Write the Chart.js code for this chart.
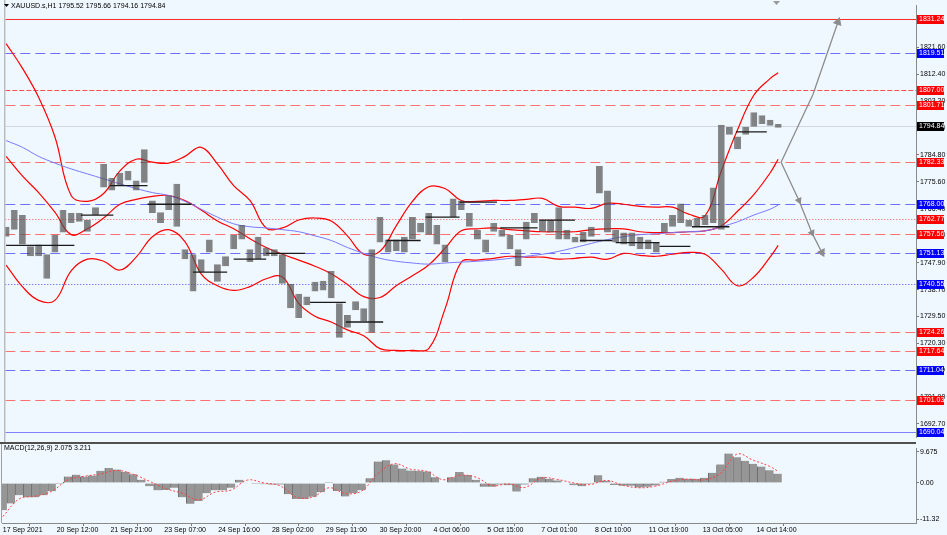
<!DOCTYPE html>
<html>
<head>
<meta charset="utf-8">
<script src="https://cdn.jsdelivr.net/npm/chart.js@4"></script>
<style>
html, body { margin: 0; padding: 0; background: #f0f8ff; overflow: hidden; }
#wrap { position: relative; width: 947px; height: 535px; background: #f0f8ff; }
#mainBox { position: absolute; left: 0; top: 0; width: 947px; height: 443px; }
#macdBox { position: absolute; left: 0; top: 443px; width: 947px; height: 92px; }
</style>
</head>
<body>
<div id="wrap">
  <div id="mainBox"><canvas id="mainChart"></canvas></div>
  <div id="macdBox"><canvas id="macdChart"></canvas></div>
</div>
<script>
// H1 bars counted from 17 Sep 2021, one sample every 5 bars
const highs = [1760.2,1765.9,1764.2,1753.5,1754.1,1750.8,1757.5,1765.9,1764.9,1764.9,
  1762.5,1766.9,1781.7,1777.0,1778.6,1779.3,1776.0,1786.7,1769.2,1765.2,
  1770.9,1774.9,1752.5,1750.8,1749.1,1755.8,1747.4,1750.1,1757.5,1760.8,
  1752.5,1756.8,1753.1,1752.5,1750.8,1740.7,1737.3,1736.3,1741.4,1741.7,
  1745.1,1734.0,1730.0,1734.7,1732.3,1752.5,1763.5,1755.8,1755.8,1756.8,
  1763.5,1761.5,1764.9,1760.8,1754.1,1769.9,1769.2,1764.9,1759.2,1755.8,
  1761.5,1759.2,1757.5,1752.5,1761.9,1764.9,1762.5,1762.5,1766.9,1759.2,
  1756.8,1758.5,1760.2,1781.0,1772.6,1759.2,1758.2,1758.2,1756.8,1755.8,
  1754.8,1761.5,1764.2,1768.2,1762.5,1763.2,1764.2,1773.6,1795.1,1794.4,
  1791.1,1794.4,1799.4,1798.4,1796.8,1795.4];
const lows = [1756.8,1759.2,1754.1,1750.1,1750.1,1742.4,1751.4,1758.2,1761.5,1761.9,
  1758.5,1764.2,1773.6,1772.6,1774.3,1776.0,1772.6,1775.3,1764.9,1761.5,
  1765.9,1760.2,1749.1,1738.0,1744.7,1751.4,1741.4,1746.7,1752.5,1755.8,
  1748.1,1749.1,1750.1,1750.1,1740.7,1732.3,1729.0,1733.3,1738.0,1738.4,
  1735.7,1722.2,1725.6,1731.6,1727.9,1723.9,1754.8,1751.4,1751.8,1751.4,
  1755.8,1758.2,1757.5,1754.1,1748.1,1763.5,1765.9,1760.2,1755.8,1751.4,
  1758.5,1756.8,1752.5,1746.7,1755.8,1761.5,1758.5,1758.2,1755.8,1755.8,
  1754.8,1754.8,1756.8,1771.6,1758.2,1754.8,1754.1,1753.5,1752.5,1752.5,
  1751.4,1758.2,1760.2,1761.5,1760.2,1760.5,1760.8,1761.5,1759.2,1791.7,
  1786.7,1791.7,1794.4,1795.4,1794.8,1794.1];
const macdHist = [-8.5,-6.4,-3.8,-4.5,-4.5,-3.8,-2.6,-0.3,2.0,2.6,
  2.0,2.3,3.8,4.7,4.2,3.5,2.7,1.0,-1.0,-2.3,
  -2.2,-1.5,-4.5,-6.5,-5.6,-3.2,-2.3,-2.3,-1.5,1.0,
  0.0,-0.3,-0.4,-0.5,-0.5,-3.5,-5.0,-5.0,-4.3,-2.9,
  0.3,-2.5,-4.2,-3.2,-2.3,1.5,6.7,7.1,5.8,4.5,
  3.9,3.8,3.6,1.8,-0.2,1.8,3.4,2.5,1.0,-1.2,
  -1.2,-0.5,-0.7,-2.7,-0.5,1.5,1.9,1.3,0.8,0.0,
  -0.7,-1.0,-0.3,2.4,0.7,-0.6,-0.9,-0.9,-1.4,-1.2,
  -0.8,0.4,1.2,1.6,1.3,1.3,1.6,3.2,5.8,9.2,
  8.0,6.9,6.0,5.1,4.0,2.9];
const barHours = highs.map((h, i) => i * 5);

// indicator curves, one sample every 10 bars
const bandHours = [0,10,20,30,40,50,60,70,80,90,100,110,120,130,140,150,160,170,180,190,
  200,210,220,230,240,250,260,270,280,290,300,310,320,330,340,350,360,370,380,390,
  400,410,420,430,440,450,460,470,475];
const upperBand = [1822.9,1814.5,1804.5,1791.0,1770.9,1768.9,1771.6,1779.3,1783.3,1782.3,
  1782.0,1784.3,1787.4,1781.7,1774.3,1769.2,1759.8,1759.8,1762.5,1763.2,
  1762.2,1757.1,1750.8,1751.8,1760.5,1768.9,1773.9,1773.3,1769.2,1768.9,
  1769.2,1769.2,1769.6,1769.9,1767.2,1766.9,1766.5,1768.2,1767.9,1767.2,
  1766.9,1766.9,1764.5,1763.9,1779.3,1793.4,1805.2,1810.9,1812.9];
const middleBand = [1784.3,1777.6,1771.9,1765.2,1757.5,1759.5,1763.2,1767.9,1769.6,1770.6,
  1770.9,1769.2,1765.9,1762.2,1759.5,1756.1,1753.1,1750.8,1748.8,1746.7,
  1744.1,1740.4,1736.3,1736.0,1740.0,1743.4,1747.1,1752.8,1758.8,1759.5,
  1759.8,1759.2,1758.8,1758.5,1758.5,1758.5,1759.2,1759.5,1759.5,1758.5,
  1758.2,1758.2,1758.5,1758.8,1760.5,1765.5,1771.2,1778.6,1783.3];
const lowerBand = [1747.1,1739.7,1735.0,1735.0,1745.1,1749.1,1748.4,1745.4,1749.8,1756.8,
  1759.2,1755.1,1744.1,1740.0,1738.4,1739.7,1742.4,1743.0,1734.0,1729.6,
  1727.6,1724.9,1722.9,1718.5,1717.9,1717.9,1718.5,1732.0,1748.1,1748.8,
  1749.4,1750.1,1749.8,1749.8,1749.1,1749.4,1749.8,1749.1,1751.1,1750.4,
  1750.1,1750.8,1751.4,1750.8,1745.7,1740.0,1743.0,1749.8,1753.8];
const slowMa = [1789.7,1787.4,1784.3,1782.0,1780.0,1778.3,1776.6,1774.9,1773.3,1771.9,
  1770.9,1768.9,1766.2,1763.5,1761.2,1760.2,1759.8,1759.2,1758.5,1757.1,
  1755.5,1753.1,1751.1,1749.4,1748.4,1747.8,1747.4,1747.8,1748.1,1748.4,
  1748.8,1749.4,1750.1,1750.8,1751.8,1753.1,1754.5,1755.8,1756.8,1757.5,
  1757.8,1758.2,1758.5,1758.8,1760.2,1761.9,1764.2,1766.2,1767.6];
const macdSignal = [-10.5,-5.0,-4.1,-2.6,1.0,2.1,2.8,3.9,2.7,0.5,
  -1.8,-3.2,-5.3,-2.9,-2.2,0.9,0.0,-0.9,-4.4,-4.4,
  -1.5,-3.3,-2.5,3.0,6.0,4.3,3.6,1.0,2.4,1.8,
  -0.8,-0.3,-1.4,1.5,1.1,0.0,-0.5,0.8,-0.7,-1.5,
  -1.0,0.5,1.2,1.0,3.0,9.0,7.1,5.2,3.7];

// daily open segments
const segStart = [0,46,64,87,115,140,160,187,209,234,258,279,304,328,353,375,402,422,449];
const segEnd = [42,66,87,114,136,160,184,209,232,255,279,302,327,350,373,402,421,445,468];
const segLevel = [1753.8,1764.2,1774.3,1767.9,1744.7,1749.1,1751.1,1734.3,1727.6,1755.5,
  1763.5,1768.6,1759.8,1762.5,1755.5,1754.8,1753.5,1760.2,1792.7];

// forecast arrows
const arrowUpHours = [476.8, 496.4, 511.8];
const arrowUpPrices = [1782.3, 1805.5, 1830.3];
const arrowDownHours = [476.8, 487.8, 495.8, 501.9];
const arrowDownPrices = [1782.3, 1769.2, 1758.1, 1751.4];

// horizontal levels
const levelValues = [1831.24,1819.51,1807.00,1801.71,1794.84,1782.33,1768.00,1762.77,
  1757.56,1751.13,1740.55,1724.26,1717.64,1711.04,1701.03,1690.04];
const levelKinds = ['redSolid','blueDash','redDashDot','redDash','bid','redDash','blueDash','redDot',
  'redDash','blueDash','blueDot','redDash','redDash','blueDash','redDash','blueSolid'];

const priceTicks = [1821.60,1812.40,1803.20,1794.00,1784.80,1775.60,1766.40,1757.20,
  1747.90,1738.70,1729.50,1720.30,1711.10,1701.90,1692.70];
const macdTicks = [9.675, 0, -11.32];
const macdTickLabels = ['9.675', '0.00', '-11.32'];
const tickHours = [0,33,66,99,132,165,198,231,264,297,330,363,396,429,462];
const timeLabels = ['17 Sep 2021','20 Sep 12:00','21 Sep 21:00','23 Sep 07:00','24 Sep 16:00',
  '28 Sep 02:00','29 Sep 11:00','30 Sep 20:00','4 Oct 06:00','5 Oct 15:00','7 Oct 01:00',
  '8 Oct 10:00','11 Oct 19:00','13 Oct 05:00','14 Oct 14:00'];

const FONT = '"Liberation Sans", Arial, sans-serif';
Chart.defaults.font.family = FONT;
Chart.defaults.font.size = 7;
Chart.defaults.color = '#000';

const X_MIN = -0.5;
const X_MAX = 559.8;
const AXIS_W = 31;

const levelStyles = {
  redSolid: { color: '#ff2a2a', dash: [] },
  redDash: { color: '#ff7070', dash: [10, 5] },
  redDashDot: { color: '#ff5050', dash: [5, 2] },
  redDot: { color: '#ff5050', dash: [1, 2] },
  blueDash: { color: '#6e6eff', dash: [10, 5] },
  blueDot: { color: '#4a4aff', dash: [1, 2] },
  blueSolid: { color: '#8080ff', dash: [] },
  bid: { color: '#d3d8e0', dash: [] }
};

function xy(xs, ys) {
  return ys.map((v, i) => ({ x: xs[i], y: v }));
}

function segmentPoints() {
  const pts = [];
  segLevel.forEach((lvl, i) => {
    pts.push({ x: segStart[i], y: lvl });
    pts.push({ x: segEnd[i], y: lvl });
    pts.push({ x: segEnd[i] + 0.5, y: null });
  });
  return pts;
}

// horizontal level lines, snapped to whole pixels so they stay crisp
const levelLines = {
  id: 'levelLines',
  beforeDatasetsDraw(chart) {
    const ctx = chart.ctx;
    const yScale = chart.scales.y;
    const area = chart.chartArea;
    ctx.save();
    ctx.beginPath();
    ctx.rect(area.left, area.top, area.right - area.left, area.bottom - area.top);
    ctx.clip();
    ctx.lineWidth = 1;
    levelValues.forEach((v, i) => {
      const st = levelStyles[levelKinds[i]];
      const py = Math.round(yScale.getPixelForValue(v)) + 0.5;
      ctx.strokeStyle = st.color;
      ctx.setLineDash(st.dash);
      ctx.beginPath();
      ctx.moveTo(area.left, py);
      ctx.lineTo(area.right, py);
      ctx.stroke();
    });
    ctx.restore();
  }
};

const levelLabels = {
  id: 'levelLabels',
  afterDraw(chart) {
    const ctx = chart.ctx;
    const yScale = chart.scales.y;
    const area = chart.chartArea;
    ctx.save();
    ctx.lineWidth = 1;
    ctx.strokeStyle = '#a0a0a0';
    ctx.beginPath();
    ctx.moveTo(area.left - 0.5, 0);
    ctx.lineTo(area.left - 0.5, chart.height);
    ctx.stroke();
    ctx.strokeStyle = '#505050';
    ctx.beginPath();
    ctx.moveTo(0, chart.height - 0.5);
    ctx.lineTo(area.right, chart.height - 0.5);
    ctx.stroke();

    ctx.font = '7px ' + FONT;
    ctx.textBaseline = 'middle';
    ctx.textAlign = 'left';
    levelValues.forEach((v, i) => {
      const py = Math.round(yScale.getPixelForValue(v));
      const kind = levelKinds[i];
      ctx.fillStyle = kind === 'bid' ? '#000000' : (kind.indexOf('red') === 0 ? '#ff0000' : '#0000ff');
      ctx.fillRect(area.right + 1, py - 4, 27, 9);
      ctx.fillStyle = '#ffffff';
      ctx.fillText(v.toFixed(2), area.right + 3, py + 0.5);
    });

    ctx.fillStyle = '#000';
    ctx.fillText('XAUUSD.s,H1 1795.52 1795.66 1794.16 1794.84', 11, 6);
    ctx.beginPath();
    ctx.moveTo(4, 4);
    ctx.lineTo(9, 4);
    ctx.lineTo(6.5, 7);
    ctx.closePath();
    ctx.fill();
    ctx.fillStyle = '#9a9a9a';
    ctx.beginPath();
    ctx.moveTo(773, 1);
    ctx.lineTo(780, 1);
    ctx.lineTo(776.5, 5);
    ctx.closePath();
    ctx.fill();
    ctx.restore();
  }
};

const macdDecor = {
  id: 'macdDecor',
  afterDraw(chart) {
    const ctx = chart.ctx;
    const area = chart.chartArea;
    ctx.save();
    ctx.lineWidth = 1;
    ctx.strokeStyle = '#a0a0a0';
    ctx.beginPath();
    ctx.moveTo(area.left - 0.5, 0);
    ctx.lineTo(area.left - 0.5, area.bottom);
    ctx.stroke();
    ctx.strokeStyle = '#505050';
    ctx.beginPath();
    ctx.moveTo(0, 0.5);
    ctx.lineTo(area.right, 0.5);
    ctx.stroke();
    ctx.font = '7px ' + FONT;
    ctx.textBaseline = 'middle';
    ctx.fillStyle = '#000';
    ctx.fillText('MACD(12,26,9) 2.075 3.211', 4, 5);
    ctx.restore();
  }
};

const mainChart = new Chart(document.querySelector('#mainChart'), {
  type: 'bar',
  data: {
    datasets: [
      {
        type: 'line',
        data: xy(arrowUpHours, arrowUpPrices),
        borderColor: '#8c8c8c',
        backgroundColor: '#8c8c8c',
        borderWidth: 1.3,
        pointStyle: 'triangle',
        pointRadius: [0, 0, 4],
        pointRotation: [0, 0, 19],
        order: 0
      },
      {
        type: 'line',
        data: xy(arrowDownHours, arrowDownPrices),
        borderColor: '#8c8c8c',
        backgroundColor: '#8c8c8c',
        borderWidth: 1.3,
        pointStyle: 'triangle',
        pointRadius: [0, 3, 3, 4],
        pointRotation: [0, 155, 155, 153],
        order: 0
      },
      {
        type: 'line',
        data: segmentPoints(),
        borderColor: '#1a1a1a',
        borderWidth: 1.3,
        pointRadius: 0,
        spanGaps: false,
        order: 1
      },
      {
        type: 'bar',
        data: highs.map((h, i) => ({ x: barHours[i], y: [lows[i], h] })),
        backgroundColor: 'rgba(85,85,85,0.72)',
        borderColor: 'rgba(30,30,30,0.55)',
        borderWidth: { left: 1, right: 0, top: 0, bottom: 0 },
        borderSkipped: false,
        barPercentage: 0.85,
        categoryPercentage: 1,
        order: 2
      },
      {
        type: 'line',
        data: xy(bandHours, slowMa),
        borderColor: '#7878ff',
        borderWidth: 1,
        pointRadius: 0,
        tension: 0.4,
        order: 3
      },
      {
        type: 'line',
        data: xy(bandHours, upperBand),
        borderColor: '#ff0000',
        borderWidth: 1.2,
        pointRadius: 0,
        tension: 0.4,
        order: 3
      },
      {
        type: 'line',
        data: xy(bandHours, middleBand),
        borderColor: '#ff0000',
        borderWidth: 1.2,
        pointRadius: 0,
        tension: 0.4,
        order: 3
      },
      {
        type: 'line',
        data: xy(bandHours, lowerBand),
        borderColor: '#ff0000',
        borderWidth: 1.2,
        pointRadius: 0,
        tension: 0.4,
        order: 3
      }
    ]
  },
  options: {
    responsive: true,
    maintainAspectRatio: false,
    animation: false,
    layout: { padding: { left: 2, top: 1, right: 0, bottom: 1 } },
    plugins: { legend: { display: false }, tooltip: { enabled: false } },
    scales: {
      x: {
        type: 'linear',
        display: false,
        offset: false,
        min: X_MIN,
        max: X_MAX
      },
      y: {
        position: 'right',
        min: 1688.0,
        max: 1836.0,
        afterFit: (s) => { s.width = AXIS_W; },
        afterBuildTicks: (s) => { s.ticks = priceTicks.map(v => ({ value: v })); },
        ticks: {
          autoSkip: false,
          padding: 1,
          callback: (v) => Number(v).toFixed(2)
        },
        grid: { drawOnChartArea: false, tickLength: 3, color: '#777' },
        border: { display: true, color: '#8a8a8a' }
      }
    }
  },
  plugins: [levelLines, levelLabels]
});

const macdChart = new Chart(document.querySelector('#macdChart'), {
  type: 'bar',
  data: {
    datasets: [
      {
        type: 'line',
        data: xy(bandHours, macdSignal),
        borderColor: '#ff4040',
        borderDash: [2, 2],
        borderWidth: 1,
        pointRadius: 0,
        tension: 0.4,
        order: 0
      },
      {
        type: 'bar',
        data: macdHist.map((v, i) => ({ x: barHours[i], y: v })),
        backgroundColor: '#969696',
        borderColor: '#6e6e6e',
        borderWidth: { left: 1, right: 0, top: 0, bottom: 0 },
        borderSkipped: false,
        barPercentage: 1,
        categoryPercentage: 1,
        order: 1
      }
    ]
  },
  options: {
    responsive: true,
    maintainAspectRatio: false,
    animation: false,
    layout: { padding: { left: 2, top: 0, right: 0, bottom: 0 } },
    plugins: { legend: { display: false }, tooltip: { enabled: false } },
    scales: {
      x: {
        type: 'linear',
        offset: false,
        min: X_MIN,
        max: X_MAX,
        afterFit: (s) => { s.height = 12; },
        afterBuildTicks: (s) => { s.ticks = tickHours.map(v => ({ value: v })); },
        ticks: {
          autoSkip: false,
          align: 'start',
          maxRotation: 0,
          minRotation: 0,
          padding: 0,
          callback: (v, i) => timeLabels[i]
        },
        grid: { drawOnChartArea: false, tickLength: 3, color: '#777' },
        border: { display: true, color: '#8a8a8a' }
      },
      y: {
        position: 'right',
        min: -12.5,
        max: 10.85,
        afterFit: (s) => { s.width = AXIS_W; },
        afterBuildTicks: (s) => { s.ticks = macdTicks.map(v => ({ value: v })); },
        ticks: {
          autoSkip: false,
          padding: 1,
          callback: (v, i) => macdTickLabels[i]
        },
        grid: { drawOnChartArea: false, tickLength: 3, color: '#777' },
        border: { display: true, color: '#8a8a8a' }
      }
    }
  },
  plugins: [macdDecor]
});
</script>
</body>
</html>
